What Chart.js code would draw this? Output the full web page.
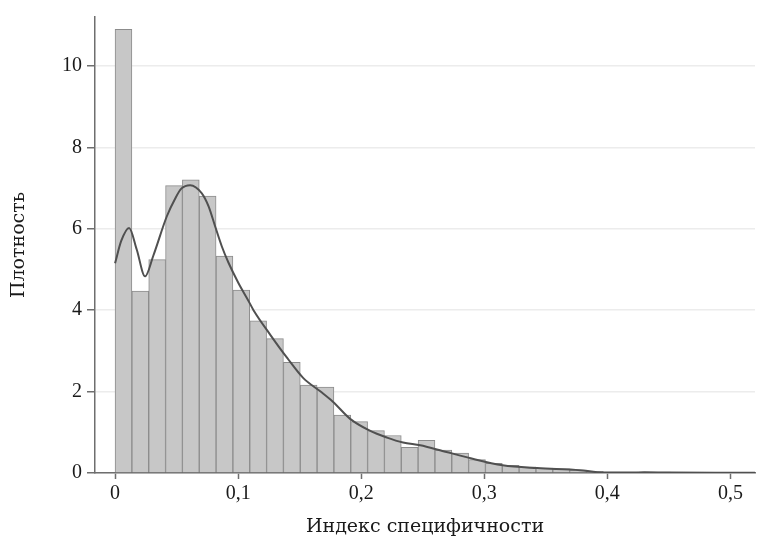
<!DOCTYPE html>
<html>
<head>
<meta charset="utf-8">
<script src="https://cdn.jsdelivr.net/npm/chart.js@4"></script>
<style>
  html, body { margin: 0; padding: 0; background: #fff; }
  #wrap { width: 759px; height: 539px; position: relative; }
</style>
</head>
<body>
<div id="wrap"><canvas id="chart"></canvas></div>
<script>
// ширина интервала гистограммы
const binWidth = 0.01368;
// высоты столбцов (плотность)
const barHeights = [
  10.9, 4.47, 5.24, 7.06, 7.2, 6.8, 5.33, 4.49, 3.74, 3.3,
  2.72, 2.16, 2.11, 1.42, 1.26, 1.04, 0.92, 0.63, 0.8, 0.56,
  0.49, 0.33, 0.24, 0.19, 0.15, 0.12, 0.1, 0.07, 0.04, 0.02,
  0.01, 0.02, 0.02, 0.01, 0.01, 0.01, 0.005, 0.01
];
// ядерная оценка плотности
const kdeX = [0, 0.005, 0.0114, 0.0176, 0.0244, 0.031, 0.042, 0.049, 0.054, 0.061,
  0.0705, 0.076, 0.0813, 0.0867, 0.0921, 0.1, 0.108, 0.1125, 0.126, 0.14,
  0.153, 0.167, 0.177, 0.191, 0.207, 0.221, 0.234, 0.248, 0.264, 0.289,
  0.315, 0.343, 0.378, 0.392, 0.42, 0.43, 0.45, 0.5, 0.52];
const kdeY = [5.15, 5.7, 6.02, 5.49, 4.83, 5.33, 6.3, 6.75, 6.99, 7.07,
  6.87, 6.55, 6.06, 5.57, 5.17, 4.68, 4.25, 4.0, 3.4, 2.82,
  2.33, 2.0, 1.75, 1.33, 1.04, 0.87, 0.75, 0.68, 0.56, 0.36,
  0.19, 0.12, 0.07, 0.02, 0.01, 0.02, 0.01, 0.005, 0.005];
const yTicks = [0, 2, 4, 6, 8, 10];
const xTicks = [0, 0.1, 0.2, 0.3, 0.4, 0.5];

const barData = barHeights.map((h, i) => ({ x: binWidth * i + binWidth / 2, y: h }));
const kdeData = kdeX.map((x, i) => ({ x: x, y: kdeY[i] }));

const serif = "'Liberation Serif', 'DejaVu Serif', serif";
const titleSerif = "'DejaVu Serif', 'Liberation Serif', serif";
const axisColor = '#6e6e6e';

new Chart(document.getElementById('chart').getContext('2d'), {
  type: 'bar',
  data: {
    datasets: [
      {
        type: 'line',
        data: kdeData,
        borderColor: '#505050',
        borderWidth: 2,
        pointRadius: 0,
        cubicInterpolationMode: 'monotone',
        fill: false,
        order: 0
      },
      {
        data: barData,
        backgroundColor: '#c7c7c7',
        borderColor: '#8c8c8c',
        borderWidth: 1,
        barPercentage: 1,
        categoryPercentage: 1,
        order: 1
      }
    ]
  },
  options: {
    responsive: true,
    maintainAspectRatio: false,
    animation: false,
    layout: { padding: { top: 12, right: 4, left: 0, bottom: 0 } },
    plugins: { legend: { display: false }, tooltip: { enabled: false } },
    scales: {
      x: {
        type: 'linear',
        offset: false,
        min: -0.0163,
        max: 0.52,
        afterFit: s => { s.height = 66; },
        afterBuildTicks: s => { s.ticks = xTicks.map(v => ({ value: v })); },
        ticks: {
          color: '#1a1a1a',
          font: { family: serif, size: 20 },
          padding: 3,
          maxRotation: 0,
          callback: v => String(v).replace('.', ',')
        },
        grid: { offset: false, drawOnChartArea: false, drawTicks: true, tickLength: 6, tickColor: axisColor, tickWidth: 1.5 },
        border: { color: axisColor, width: 1.5 },
        title: {
          display: true,
          text: 'Индекс специфичности',
          color: '#1a1a1a',
          font: { family: titleSerif, size: 19 },
          padding: { top: 0, bottom: 1 }
        }
      },
      y: {
        min: 0,
        max: 11.2,
        afterFit: s => { s.width = 95; },
        afterBuildTicks: s => { s.ticks = yTicks.map(v => ({ value: v })); },
        ticks: {
          color: '#1a1a1a',
          font: { family: serif, size: 20 },
          padding: 5
        },
        grid: { color: '#ececec', lineWidth: 1.5, tickLength: 8, tickColor: axisColor, tickWidth: 1.5 },
        border: { color: axisColor, width: 1.5 },
        title: {
          display: true,
          text: 'Плотность',
          color: '#1a1a1a',
          font: { family: titleSerif, size: 19 },
          padding: { top: 8, bottom: 4 }
        }
      }
    }
  }
});
</script>
</body>
</html>
